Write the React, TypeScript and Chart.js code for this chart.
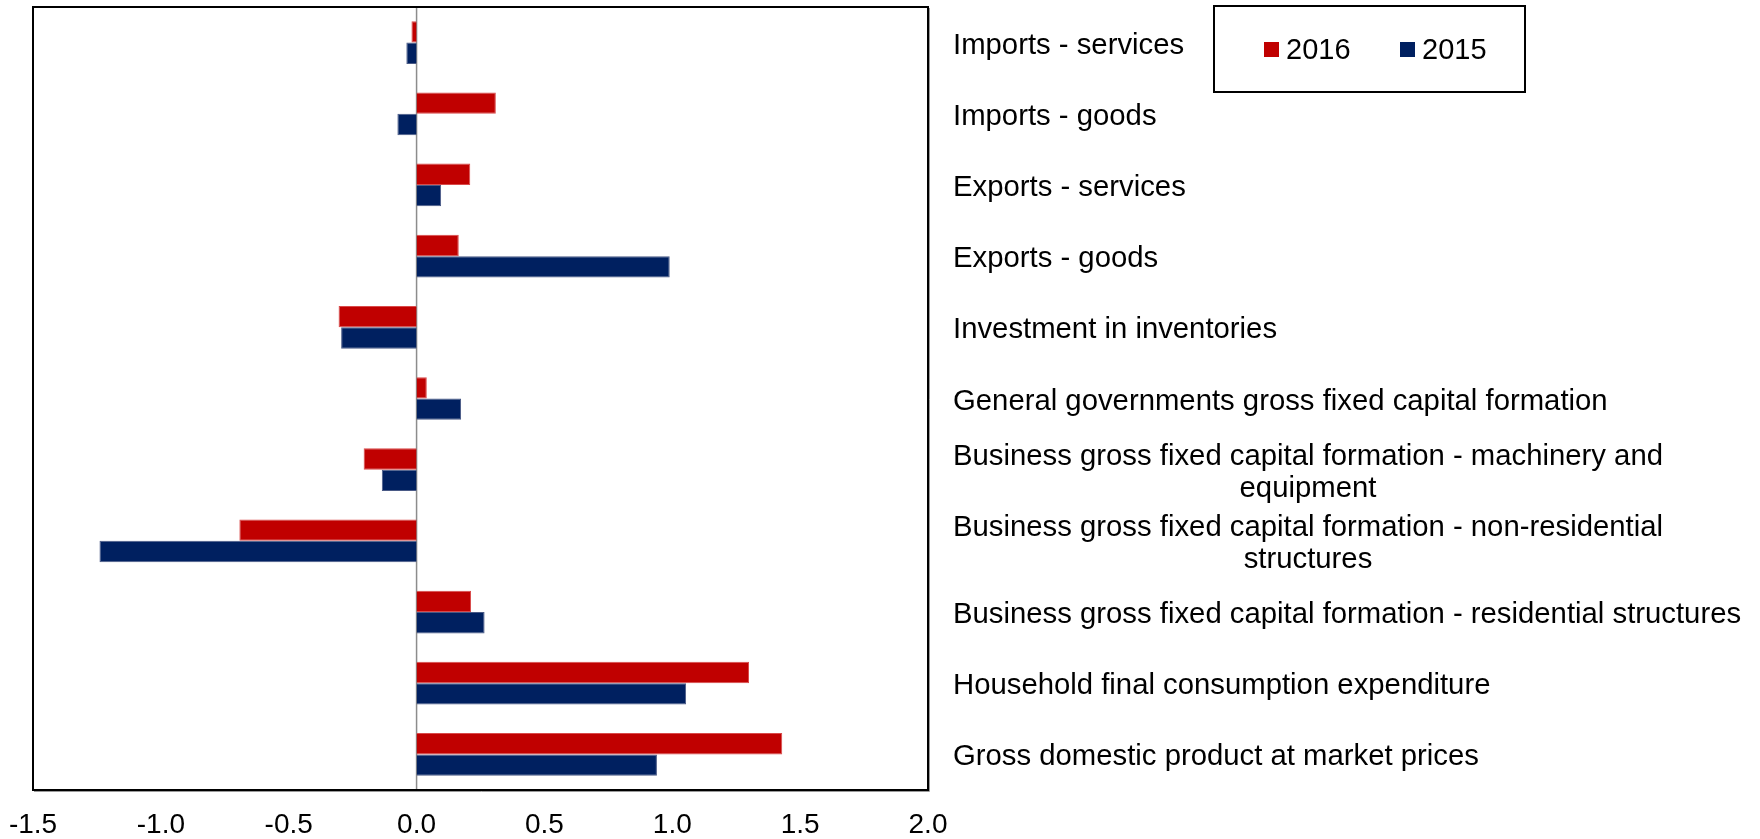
import React, { useEffect, useRef } from "react";
import { Chart, registerables } from "chart.js";

Chart.register(...registerables);

const categories: (string | string[])[] = [
  "Imports - services",
  "Imports - goods",
  "Exports - services",
  "Exports - goods",
  "Investment in inventories",
  "General governments gross fixed capital formation",
  ["Business gross fixed capital formation - machinery and", "equipment"],
  ["Business gross fixed capital formation - non-residential", "structures"],
  "Business gross fixed capital formation - residential structures",
  "Household final consumption expenditure",
  "Gross domestic product at market prices",
];

const values2016 = [-0.02, 0.31, 0.21, 0.165, -0.305, 0.04, -0.207, -0.693, 0.213, 1.3, 1.43];
const values2015 = [-0.04, -0.075, 0.096, 0.99, -0.295, 0.174, -0.136, -1.24, 0.266, 1.054, 0.94];

const seriesLabels = ["2016", "2015"];
const seriesColors = ["#C00000", "#002060"];
const seriesEdges = ["#D94A4A", "#4A5A86"];

const xMin = -1.5;
const xMax = 2.0;
const xStep = 0.5;

const FONT = '"Liberation Sans", Arial, Helvetica, sans-serif';

const plotFrame = {
  id: "plotFrame",
  beforeDatasetsDraw(chart: any) {
    const { ctx, chartArea } = chart;
    const x0 = chart.scales.x.getPixelForValue(0);
    ctx.save();
    ctx.strokeStyle = "#8c8c8c";
    ctx.lineWidth = 1.5;
    ctx.beginPath();
    ctx.moveTo(x0, chartArea.top);
    ctx.lineTo(x0, chartArea.bottom);
    ctx.stroke();
    ctx.restore();
  },
  afterDraw(chart: any) {
    const { ctx, chartArea } = chart;
    const { left, right, top, bottom } = chartArea;
    ctx.save();
    ctx.strokeStyle = "#9a9a9a";
    ctx.lineWidth = 1;
    ctx.beginPath();
    ctx.moveTo(left + 1, bottom + 1.5);
    ctx.lineTo(right + 1.5, bottom + 1.5);
    ctx.lineTo(right + 1.5, top + 1);
    ctx.stroke();
    ctx.strokeStyle = "#000";
    ctx.lineWidth = 2;
    ctx.strokeRect(left, top, right - left, bottom - top);
    ctx.restore();

    // category labels on the right
    const yScale = chart.scales.y;
    const lx = right + 25;
    const lh = 32.5;
    ctx.save();
    ctx.font = `29.3px ${FONT}`;
    ctx.fillStyle = "#000";
    ctx.textBaseline = "middle";
    (chart.data.labels as (string | string[])[]).forEach((lab, i) => {
      const cy = yScale.getPixelForTick(i) + 3;
      const lines = Array.isArray(lab) ? lab : [lab];
      const firstW = ctx.measureText(lines[0]).width;
      lines.forEach((ln, j) => {
        const ly = cy + (j - (lines.length - 1) / 2) * lh;
        if (j === 0) {
          ctx.textAlign = "left";
          ctx.fillText(ln, lx, ly);
        } else {
          ctx.textAlign = "center";
          ctx.fillText(ln, lx + firstW / 2, ly);
        }
      });
    });
    ctx.restore();

    // legend box
    const bx = right + 286;
    const by = 6;
    const bw = 311;
    const bh = 86;
    ctx.save();
    ctx.strokeStyle = "#000";
    ctx.lineWidth = 2;
    ctx.strokeRect(bx, by, bw, bh);
    ctx.font = `29px ${FONT}`;
    ctx.textBaseline = "middle";
    ctx.textAlign = "left";
    const itemX = [bx + 50, bx + 186];
    const cy = by + 43.5;
    chart.data.datasets.forEach((ds: any, k: number) => {
      ctx.fillStyle = ds.backgroundColor;
      ctx.fillRect(itemX[k], cy - 7.5, 15, 15);
      ctx.fillStyle = "#000";
      ctx.fillText(ds.label, itemX[k] + 22, cy + 1);
    });
    ctx.restore();
  },
};

export default function App() {
  const ref = useRef<HTMLCanvasElement | null>(null);

  useEffect(() => {
    if (!ref.current) return;
    const chart = new Chart(ref.current, {
      type: "bar",
      data: {
        labels: categories,
        datasets: [
          {
            label: seriesLabels[0],
            data: values2016,
            backgroundColor: seriesColors[0],
            borderColor: seriesEdges[0],
            borderWidth: 1,
          },
          {
            label: seriesLabels[1],
            data: values2015,
            backgroundColor: seriesColors[1],
            borderColor: seriesEdges[1],
            borderWidth: 1,
          },
        ],
      },
      options: {
        indexAxis: "y",
        responsive: false,
        animation: false,
        layout: { padding: { left: 33, top: 7, right: 832, bottom: 0 } },
        datasets: {
          bar: { categoryPercentage: 0.6, barPercentage: 1.0 },
        },
        plugins: {
          legend: { display: false },
          tooltip: { enabled: false },
        },
        scales: {
          x: {
            type: "linear",
            min: xMin,
            max: xMax,
            grid: { display: false, drawTicks: false },
            border: { display: false },
            afterFit: (scale: any) => {
              scale.height = 49;
              scale.paddingLeft = 0;
              scale.paddingRight = 0;
            },
            ticks: {
              stepSize: xStep,
              padding: 18,
              color: "#000",
              font: { family: FONT, size: 28 },
              callback: (v: any) => Number(v).toFixed(1),
            },
          },
          y: {
            type: "category",
            display: false,
            grid: { display: false },
          },
        },
      },
      plugins: [plotFrame],
    });
    return () => chart.destroy();
  }, []);

  return (
    <div style={{ position: "absolute", left: 0, top: 0, width: 1760, height: 839, background: "#fff" }}>
      <canvas ref={ref} width={1760} height={839} style={{ display: "block" }} />
    </div>
  );
}
